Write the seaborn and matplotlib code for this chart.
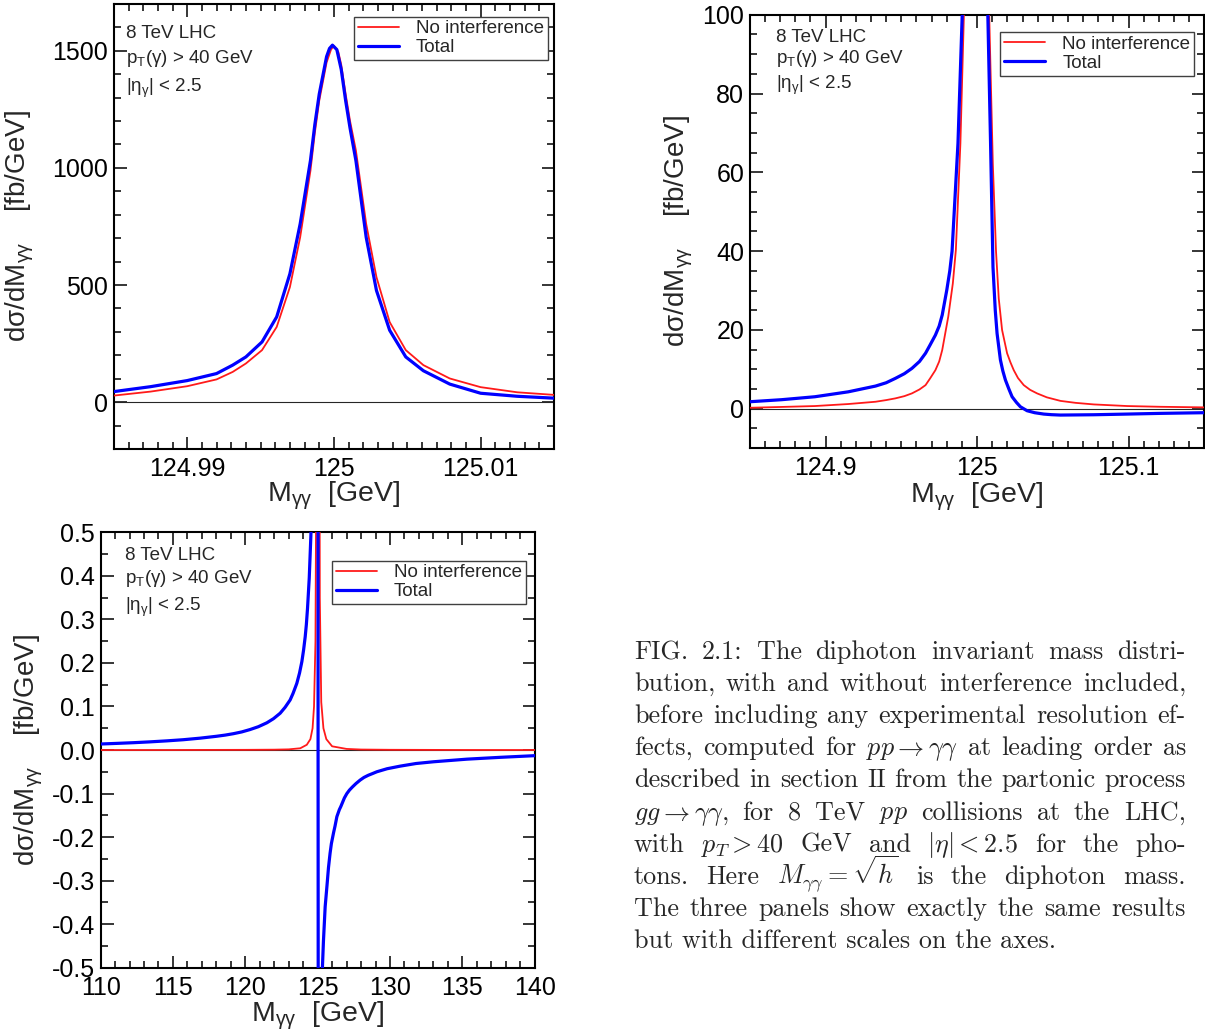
import numpy as np
import pandas as pd
import seaborn as sns
import matplotlib.pyplot as plt
from matplotlib.ticker import MultipleLocator, FuncFormatter

# values: dsigma/dM_gg [fb/GeV] vs M_gg [GeV]

# top-left panel, +-15 MeV around the peak
m_red_fine = [124.985, 124.9875, 124.990, 124.992, 124.9931, 124.994, 124.9951, 124.9961,
              124.997, 124.9977, 124.9984, 124.9987, 124.999, 124.9995, 124.9998, 125.0,
              125.0003, 125.0005, 125.0008, 125.0011, 125.0015, 125.0022, 125.0029,
              125.0038, 125.0049, 125.0061, 125.0079, 125.010, 125.0125, 125.015]
red_fine = [28, 45, 68, 97, 129, 165, 222, 321, 491, 704, 988, 1150, 1287, 1450, 1505, 1521,
            1495, 1440, 1315, 1200, 1074, 761, 534, 342, 222, 158, 101, 64, 42, 31]
m_blue_fine = [124.985, 124.9875, 124.990, 124.992, 124.9931, 124.994, 124.9951, 124.9961,
               124.997, 124.9977, 124.9984, 124.9987, 124.999, 124.9995, 124.9997, 124.9999,
               125.0002, 125.0005, 125.0008, 125.0011, 125.0015, 125.0022, 125.0029,
               125.0038, 125.0049, 125.0061, 125.0079, 125.010, 125.0125, 125.015]
blue_fine = [45, 66, 92, 122, 158, 193, 257, 364, 548, 761, 1031, 1185, 1315, 1475, 1510,
             1524, 1505, 1420, 1287, 1170, 1031, 704, 477, 307, 193, 134, 77, 38, 25, 17]

# top-right panel, +-150 MeV
m_red_mid = [124.85, 124.87, 124.893, 124.915, 124.933, 124.94, 124.946, 124.952, 124.957,
             124.962, 124.966, 124.969, 124.9725, 124.975, 124.977, 124.981, 124.984,
             124.986, 124.989, 124.9913, 124.995, 125.0, 125.005, 125.008, 125.0104,
             125.0125, 125.0143, 125.0165, 125.0198, 125.022, 125.0242, 125.027, 125.0308,
             125.035, 125.0396, 125.046, 125.055, 125.065, 125.077, 125.099, 125.121, 125.15]
red_mid = [0.25, 0.45, 0.69, 1.2, 1.78, 2.2, 2.63, 3.2, 3.9, 4.9, 6.0, 7.7, 9.8, 12, 14.9,
           23.4, 31.8, 40.3, 67.4, 100, 222, 1521, 222, 100, 62, 40, 28, 20, 14.1, 11.8,
           9.8, 7.8, 6.0, 4.8, 3.9, 2.9, 2.0, 1.5, 1.1, 0.69, 0.5, 0.35]
m_blue_mid = [124.85, 124.871, 124.893, 124.915, 124.933, 124.94, 124.946, 124.952, 124.957,
              124.962, 124.966, 124.969, 124.9725, 124.975, 124.977, 124.980, 124.982,
              124.9835, 124.9874, 124.9902, 124.995, 124.9999, 125.005, 125.0071, 125.0089,
              125.0105, 125.012, 125.0132, 125.0154, 125.017, 125.0187, 125.021, 125.0231,
              125.026, 125.0286, 125.033, 125.038, 125.044, 125.049, 125.055, 125.077,
              125.099, 125.121, 125.15]
blue_mid = [1.78, 2.3, 3.05, 4.3, 5.76, 6.6, 7.7, 8.9, 10.25, 12, 14.1, 16.2, 18.7, 21, 23.8,
            30.1, 35, 40, 67.4, 100, 257, 1524, 193, 100, 67.4, 36, 25, 19.1, 12.4, 9.6, 7.3,
            5.0, 3.05, 1.6, 0.5, -0.5, -1.0, -1.35, -1.5, -1.6, -1.52, -1.35, -1.17, -1.0]

# bottom-left panel, 110-140 GeV
m_red_wide = [110, 115, 120, 122, 123, 123.8, 124.25, 124.5, 124.65, 124.75, 124.85, 124.9,
              124.95, 124.985, 125.0, 125.015, 125.05, 125.15, 125.25, 125.4, 125.6, 126,
              127, 128, 130, 135, 140]
red_wide = [0.0, 0.0001, 0.0004, 0.0008, 0.0015, 0.004, 0.012, 0.025, 0.05, 0.1, 0.25, 0.6,
            2.6, 40, 1521, 27.6, 2.4, 0.35, 0.11, 0.05, 0.025, 0.0085, 0.0025, 0.0011,
            0.0005, 0.0001, 0.0]
m_blue_wide = [110, 111.1, 112.26, 113.4, 114.57, 115.7, 116.87, 118, 118.6, 119.18, 119.75,
               120.33, 120.9, 121.49, 121.95, 122.41, 122.75, 123.1, 123.3, 123.56, 123.75,
               123.91, 124.03, 124.14, 124.22, 124.3, 124.42, 124.53, 124.6, 124.7, 124.85,
               124.957, 124.99, 125.0, 125.01, 125.03, 125.055, 125.15, 125.25, 125.33,
               125.4, 125.52, 125.65, 125.75, 125.86, 125.95, 126.1, 126.2, 126.33, 126.5,
               126.6, 126.7, 126.85, 127.02, 127.2, 127.4, 127.65, 127.94, 128.2, 128.5,
               128.8, 129.09, 129.8, 130.71, 131.8, 133.01, 135.32, 137.62, 140]
blue_wide = [0.0138, 0.0152, 0.0168, 0.0187, 0.021, 0.0236, 0.0272, 0.0315, 0.0342, 0.0375,
             0.0415, 0.047, 0.0535, 0.0625, 0.072, 0.0845, 0.098, 0.115, 0.13, 0.153, 0.177,
             0.203, 0.23, 0.26, 0.288, 0.325, 0.395, 0.49, 0.56, 0.8, 1.78, 10.25, 100,
             1524, 38, 0.0, -1.6, -1.0, -0.65, -0.5, -0.44, -0.36, -0.31, -0.27, -0.237,
             -0.215, -0.19, -0.175, -0.153, -0.137, -0.13, -0.122, -0.11, -0.1, -0.092,
             -0.085, -0.077, -0.069, -0.063, -0.058, -0.054, -0.05, -0.043, -0.037, -0.031,
             -0.027, -0.021, -0.0168, -0.013]

labels = ['No interference', 'Total']
colors = {'No interference': '#ff1a1a', 'Total': '#0000ff'}
widths = {'No interference': 1.3, 'Total': 2.3}

caption = [
    r"FIG. 2.1:  The diphoton invariant mass distri-",
    r"bution, with and without interference included,",
    r"before including any experimental resolution ef-",
    r"fects, computed for $pp\rightarrow\gamma\gamma$ at leading order as",
    r"described in section II from the partonic process",
    r"$gg\rightarrow\gamma\gamma$, for 8 TeV $pp$ collisions at the LHC,",
    r"with $p_T>40$ GeV and $|\eta|<2.5$ for the pho-",
    r"tons.  Here $M_{\gamma\gamma}=\sqrt{h}$ is the diphoton mass.",
    r"The three panels show exactly the same results",
    r"but with different scales on the axes.",
]

sns.set_theme(style="ticks")
plt.rcParams['font.family'] = ['Liberation Sans', 'DejaVu Sans']
plt.rcParams['mathtext.fontset'] = 'custom'
plt.rcParams['mathtext.rm'] = 'Liberation Sans'
plt.rcParams['mathtext.it'] = 'Liberation Sans:italic'
plt.rcParams['axes.unicode_minus'] = False

fig = plt.figure(figsize=(12.05, 10.35), dpi=100)
ax1 = fig.add_axes([0.0945, 0.5662, 0.3652, 0.4300])
ax2 = fig.add_axes([0.6222, 0.5670, 0.3773, 0.4187])
ax3 = fig.add_axes([0.0835, 0.0650, 0.3602, 0.4207])

panels = [
    (ax1, m_red_fine, red_fine, m_blue_fine, blue_fine),
    (ax2, m_red_mid, red_mid, m_blue_mid, blue_mid),
    (ax3, m_red_wide, red_wide, m_blue_wide, blue_wide),
]

for ax, mr, r, mb, b in panels:
    ax.axhline(0, color='0.15', lw=0.8, zorder=1)
    df = pd.concat([
        pd.DataFrame({'M': mr, 'dsig': r, 'curve': labels[0]}),
        pd.DataFrame({'M': mb, 'dsig': b, 'curve': labels[1]}),
    ])
    for lab in labels:
        sns.lineplot(data=df[df['curve'] == lab], x='M', y='dsig', ax=ax,
                     color=colors[lab], lw=widths[lab], label=lab, zorder=3)

# axis ranges and ticks
setup = [
    (ax1, (124.985, 125.015), (-200, 1700), 0.01, 0.001, 500, 100, '{:g}', '{:g}'),
    (ax2, (124.85, 125.15), (-10, 100), 0.1, 0.01, 20, 5, '{:g}', '{:g}'),
    (ax3, (110, 140), (-0.5, 0.5), 5, 1, 0.1, 0.05, '{:g}', '{:.1f}'),
]
for ax, xl, yl, xM, xm, yM, ym, xf, yf in setup:
    ax.set_xlim(*xl)
    ax.set_ylim(*yl)
    ax.xaxis.set_major_locator(MultipleLocator(xM))
    ax.xaxis.set_minor_locator(MultipleLocator(xm))
    ax.yaxis.set_major_locator(MultipleLocator(yM))
    ax.yaxis.set_minor_locator(MultipleLocator(ym))
    ax.xaxis.set_major_formatter(FuncFormatter(lambda v, p, f=xf: f.format(round(v, 6))))
    ax.yaxis.set_major_formatter(FuncFormatter(lambda v, p, f=yf: f.format(round(v, 6))))
    ax.tick_params(which='both', direction='in', top=True, right=True, width=1.1,
                   colors='black', labelsize=18)
    ax.tick_params(which='major', length=9)
    ax.tick_params(which='minor', length=5)
    ax.tick_params(axis='x', pad=6)
    ax.tick_params(axis='y', pad=4)
    for s in ax.spines.values():
        s.set_linewidth(1.5)
        s.set_color('black')
    ax.set_xlabel(r"M$_{\mathrm{γγ}}$  [GeV]", fontsize=20.5)
    ax.set_ylabel(r"dσ/dM$_{\mathrm{γγ}}$    [fb/GeV]", fontsize=20)

ax1.xaxis.set_label_coords(0.5, -0.07)
ax2.xaxis.set_label_coords(0.5, -0.074)
ax3.xaxis.set_label_coords(0.5, -0.074)
ax1.yaxis.set_label_coords(-0.177, 0.5)
ax2.yaxis.set_label_coords(-0.121, 0.5)
ax3.yaxis.set_label_coords(-0.128, 0.5)

# cut annotations and legends
notes = [r"8 TeV LHC", r"p$_{\mathrm{T}}$(γ) > 40 GeV", r"|η$_{\mathrm{γ}}$| < 2.5"]
note_pos = [
    (ax1, 0.0275, [0.923, 0.867, 0.803], (0.986, 0.9715)),
    (ax2, 0.057, [0.938, 0.888, 0.828], (0.977, 0.960)),
    (ax3, 0.057, [0.936, 0.883, 0.819], (0.979, 0.935)),
]
for ax, x0, ys, anchor in note_pos:
    for txt, y in zip(notes, ys):
        ax.text(x0, y, txt, transform=ax.transAxes, fontsize=13.5, va='baseline', ha='left')
    leg = ax.legend(loc='upper right', bbox_to_anchor=anchor, fontsize=13.5, frameon=True,
                    fancybox=False, edgecolor='0.25', framealpha=1, borderpad=0.2,
                    labelspacing=0.1, handlelength=2.2, handletextpad=0.9, borderaxespad=0)
    leg.get_frame().set_linewidth(1.0)

# caption, justified line by line
renderer = fig.canvas.get_renderer()
cap_left, cap_right, cap_top, cap_step = 634, 1186, 659, 32.1
cap_size = 18.8
W, H = fig.bbox.width, fig.bbox.height
for i, line in enumerate(caption):
    y = 1 - (cap_top + i * cap_step) / H
    words = line.split()
    if i == len(caption) - 1:
        fig.text(cap_left / W, y, line, family='cmr10', math_fontfamily='cm',
                 fontsize=cap_size, va='baseline')
        continue
    objs = [fig.text(0, y, w, family='cmr10', math_fontfamily='cm', fontsize=cap_size,
                     va='baseline') for w in words]
    widths_px = [o.get_window_extent(renderer).width for o in objs]
    gap = (cap_right - cap_left - sum(widths_px)) / max(len(words) - 1, 1)
    x = cap_left
    for o, wpx in zip(objs, widths_px):
        o.set_x(x / W)
        x += wpx + gap

fig.savefig('out.png', dpi=100, facecolor='white')
